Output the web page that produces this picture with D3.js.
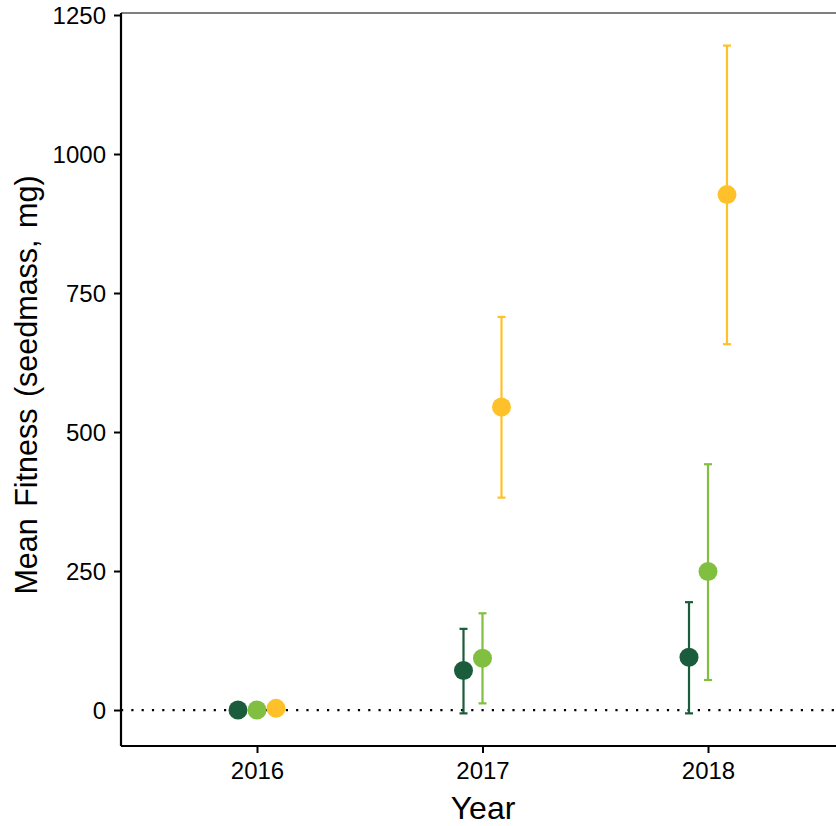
<!DOCTYPE html>
<html>
<head>
<meta charset="utf-8">
<script src="https://cdn.jsdelivr.net/npm/d3@7"></script>
<style>
  html, body { margin: 0; padding: 0; background: #fff; }
  svg { display: block; }
  text { font-family: Arial, "Liberation Sans", sans-serif; fill: #000; }
</style>
</head>
<body>
<svg id="chart" width="836" height="826"></svg>
<script>
// ---- data ----
const years = ["2016", "2017", "2018"];
const groups = ["G1", "G2", "G3"];
const groupColors = ["#1A5C3B", "#80BF40", "#FFC12A"];
const means = {
  G1: [0, 71, 95],
  G2: [0, 93, 249],
  G3: [3, 545, 927]
};
const lower = {
  G1: [0, -6, -6],
  G2: [0, 12, 54],
  G3: [3, 382, 658]
};
const upper = {
  G1: [0, 146, 194],
  G2: [0, 174, 442],
  G3: [3, 707, 1195]
};
const yTicks = [0, 250, 500, 750, 1000, 1250];
const xTitle = "Year";
const yTitle = "Mean Fitness (seedmass, mg)";

// ---- layout ----
const svg = d3.select("#chart");
const mLeft = 121, mBottom = 746, mTop = 13, mRight = 836;

const x = d3.scalePoint().domain(years).range([257, 708]);
const dodge = d3.scalePoint().domain(groups).range([-19, 19]);
const y = d3.scaleLinear().domain([-64.7, 1253.6]).range([mBottom, mTop]);
const color = d3.scaleOrdinal().domain(groups).range(groupColors);

// top border (partial panel frame)
svg.append("line")
  .attr("x1", mLeft).attr("x2", mRight).attr("y1", mTop).attr("y2", mTop)
  .attr("stroke", "#555").attr("stroke-width", 1.6);

// zero reference line
svg.append("line")
  .attr("x1", mLeft).attr("x2", mRight)
  .attr("y1", y(0)).attr("y2", y(0))
  .attr("stroke", "#000").attr("stroke-width", 2.2)
  .attr("stroke-dasharray", "2.2 8.1");

// data records
const recs = [];
groups.forEach(g => years.forEach((yr, i) => {
  recs.push({ g, yr, m: means[g][i], lo: lower[g][i], hi: upper[g][i] });
}));

const cx = d => x(d.yr) + dodge(d.g);

const eb = svg.append("g");
recs.filter(d => d.hi !== d.lo).forEach(d => {
  const c = color(d.g);
  eb.append("line").attr("x1", cx(d)).attr("x2", cx(d))
    .attr("y1", y(d.lo)).attr("y2", y(d.hi))
    .attr("stroke", c).attr("stroke-width", 2.2);
  [d.lo, d.hi].forEach(v => {
    eb.append("line").attr("x1", cx(d) - 4).attr("x2", cx(d) + 4)
      .attr("y1", y(v)).attr("y2", y(v))
      .attr("stroke", c).attr("stroke-width", 2.2);
  });
});

svg.append("g").selectAll("circle").data(recs).join("circle")
  .attr("cx", cx).attr("cy", d => y(d.m)).attr("r", 9.5)
  .attr("fill", d => color(d.g));

// axes
const yAxis = svg.append("g").attr("transform", `translate(${mLeft},0)`)
  .call(d3.axisLeft(y).tickValues(yTicks).tickFormat(d3.format("d"))
    .tickSize(7).tickPadding(8));
yAxis.select(".domain").attr("stroke", "#000").attr("stroke-width", 2.2)
  .attr("d", `M0,${mTop}V${mBottom}`);
yAxis.selectAll(".tick line").attr("stroke", "#000").attr("stroke-width", 2);
yAxis.selectAll(".tick text").attr("font-size", 24).attr("fill", "#000")
  .attr("font-family", "Arial, 'Liberation Sans', sans-serif").attr("dy", "0.35em");

const xAxis = svg.append("g").attr("transform", `translate(0,${mBottom})`)
  .call(d3.axisBottom(x).tickSize(7).tickPadding(9));
xAxis.select(".domain").attr("stroke", "#000").attr("stroke-width", 2.2)
  .attr("d", `M${mLeft},0H${mRight}`);
xAxis.selectAll(".tick line").attr("stroke", "#000").attr("stroke-width", 2);
xAxis.selectAll(".tick text").attr("font-size", 24).attr("fill", "#000")
  .attr("font-family", "Arial, 'Liberation Sans', sans-serif");

// titles
svg.append("text").attr("x", 483).attr("y", 819)
  .attr("text-anchor", "middle").attr("font-size", 32).text(xTitle);
svg.append("text")
  .attr("transform", `translate(37,${385}) rotate(-90)`)
  .attr("text-anchor", "middle").attr("font-size", 30.5)
  .attr("word-spacing", "3px")
  .text(yTitle);
</script>
</body>
</html>
